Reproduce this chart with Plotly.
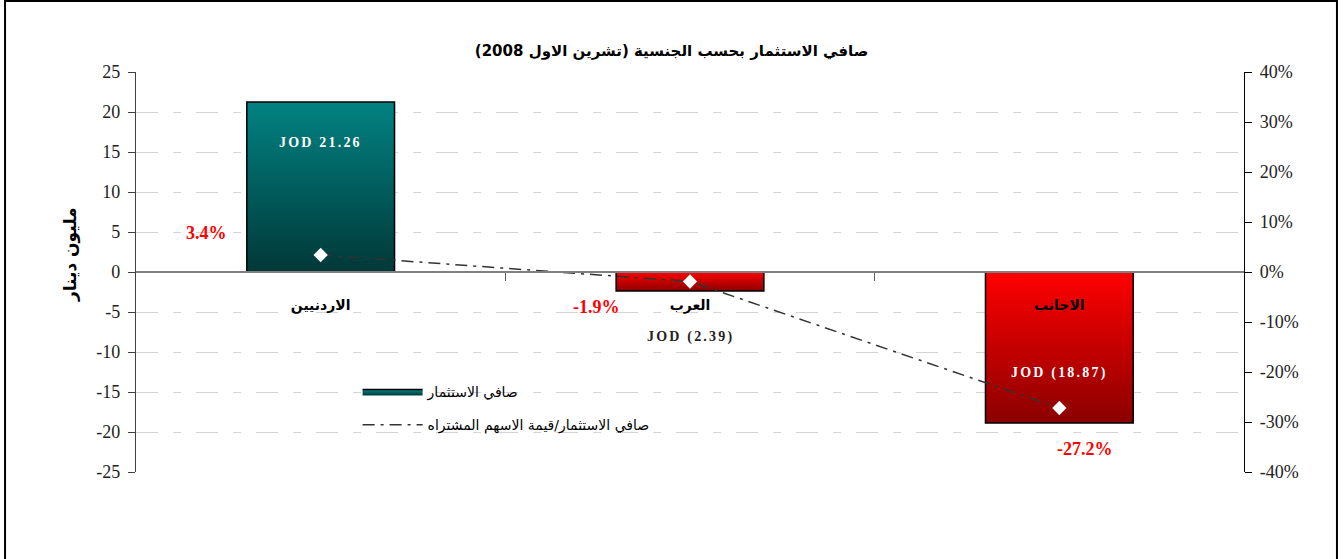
import plotly.graph_objects as go

# ---------------- data ----------------
title_text = "صافي الاستثمار بحسب الجنسية (تشرين الاول 2008)"
categories = ["الاردنيين", "العرب", "الاجانب"]
net_investment = [21.26, -2.39, -18.87]      # million JOD
ratio_pct = [3.4, -1.9, -27.2]               # net investment / value of shares bought (%)
bar_name = "صافي الاستثمار"
line_name = "صافي الاستثمار/قيمة الاسهم المشتراه"
y_title = "مليون دينار"
left_ticks = [-25, -20, -15, -10, -5, 0, 5, 10, 15, 20, 25]
right_ticks = [-40, -30, -20, -10, 0, 10, 20, 30, 40]

# ---------------- style ----------------
SERIF = "Liberation Serif, DejaVu Serif, serif"
ARAB = "DejaVu Sans, sans-serif"
teal_scale = [[0, "#013838"], [1, "#028282"]]
red_scale = [[0, "#8a0000"], [1, "#ff0000"]]
HALF = 0.2

fig = go.Figure()

for i, v in enumerate(net_investment):
    xs = [i - HALF, i - HALF, i + HALF, i + HALF, i - HALF]
    ys = [0, v, v, 0, 0]
    fig.add_trace(go.Scatter(
        x=xs, y=ys, mode="lines", fill="toself",
        fillgradient=dict(type="vertical", colorscale=teal_scale if v >= 0 else red_scale),
        line=dict(color="#000000", width=1.5),
        name=bar_name, legendgroup="bars", showlegend=(i == 0),
        hoverinfo="skip",
    ))

x_idx = list(range(len(categories)))
fig.add_trace(go.Scatter(
    x=x_idx, y=ratio_pct, yaxis="y2", mode="lines",
    line=dict(color="#333333", width=1.5, dash="12px,6px,3px,6px"),
    name=line_name, legendgroup="ratio",
))
fig.add_trace(go.Scatter(
    x=x_idx, y=ratio_pct, yaxis="y2", mode="markers",
    marker=dict(symbol="diamond", size=11, color="white", line=dict(width=0)),
    showlegend=False, hoverinfo="skip",
))

# ---------------- annotations ----------------
ann = []
jod_pos = [16.25, -8.1, -12.6]
jod_col = ["white", "#222222", "white"]
for i, v in enumerate(net_investment):
    txt = f"JOD {v:.2f}" if v >= 0 else f"JOD ({abs(v):.2f})"
    ann.append(dict(x=i, y=jod_pos[i], xref="x", yref="y", showarrow=False,
                    text=f"<b><span style='letter-spacing:2.2px'>{txt}</span></b>",
                    font=dict(family=SERIF, size=14, color=jod_col[i])))
pct_pos = [(-0.308, 4.9), (0.748, -4.4), (2.069, -22.1)]
for i, p in enumerate(ratio_pct):
    ann.append(dict(x=pct_pos[i][0], y=pct_pos[i][1], xref="x", yref="y", showarrow=False,
                    text=f"<b>{p}%</b>", font=dict(family=SERIF, size=18, color="#ff0000")))
ann.append(dict(x=-0.0595, y=0.5425, xref="paper", yref="paper", showarrow=False,
                xanchor="center", yanchor="middle",
                text=f"<b>{y_title}</b>", textangle=-90,
                font=dict(family=ARAB, size=17, color="#000000")))

# outer frame
shapes = [dict(type="rect", xref="paper", yref="paper", x0=-0.1182, x1=1.0839,
               y0=-0.4, y1=1.1775, line=dict(color="#000000", width=2), layer="below")]

tickfont = dict(family=SERIF, size=18, color="#222222")
fig.update_layout(
    width=1343, height=559,
    margin=dict(l=136, r=99, t=72, b=87),
    paper_bgcolor="white", plot_bgcolor="white",
    title=dict(text=f"<b>{title_text}</b>", x=0.5, xanchor="center", y=0.91, yanchor="middle",
               font=dict(family=ARAB, size=15, color="#000000")),
    showlegend=True,
    legend=dict(x=0.2, y=0.24, xanchor="left", yanchor="top", bgcolor="rgba(0,0,0,0)",
                font=dict(family=ARAB, size=14, color="#000000"),
                itemwidth=60, traceorder="grouped", tracegroupgap=12),
    xaxis=dict(range=[-0.5, 2.5], tickvals=x_idx, ticktext=[f"<b>{c}</b>" for c in categories],
               ticks="", anchor="free", position=0.5, showline=True, linecolor="#808080",
               linewidth=2, showgrid=False, zeroline=False, ticklabelstandoff=20,
               tickfont=dict(family=ARAB, size=14, color="#000000"),
               minor=dict(tickvals=[0.5, 1.5], ticks="outside", ticklen=8,
                          tickcolor="#606060", tickwidth=1.2, showgrid=False)),
    xaxis2=dict(range=[-0.5, 2.5], overlaying="x", anchor="free", position=0.5,
                tickvals=[0.5, 1.5], ticks="inside", ticklen=8, tickcolor="#606060",
                tickwidth=1.2, showticklabels=False, showgrid=False, zeroline=False,
                showline=False, side="bottom"),
    yaxis=dict(range=[-25, 25], tickvals=left_ticks, ticktext=[f"{t}" for t in left_ticks],
               ticks="outside", ticklen=7,
               tickcolor="#404040", tickwidth=1.2, showline=True, linecolor="#404040",
               linewidth=1.2, showgrid=True, gridcolor="#d4d4d4", griddash="22px,15px,8px,15px",
               gridwidth=1, zeroline=False, tickfont=tickfont, ticklabelstandoff=4),
    yaxis2=dict(range=[-40, 40], tickvals=right_ticks, ticktext=[f"{t}%" for t in right_ticks],
                overlaying="y",
                side="right", ticks="outside", ticklen=7, tickcolor="#000000", tickwidth=1.2,
                showline=True, linecolor="#000000", linewidth=1.2, showgrid=False,
                zeroline=False, tickfont=tickfont, ticklabelstandoff=4),
    yaxis3=dict(range=[-25, 25], tickvals=left_ticks, overlaying="y", side="left",
                ticks="inside", ticklen=7, tickcolor="#404040", tickwidth=1.2,
                showticklabels=False, showgrid=False, zeroline=False, showline=False),
    yaxis4=dict(range=[-40, 40], tickvals=right_ticks, overlaying="y", side="right",
                ticks="inside", ticklen=7, tickcolor="#000000", tickwidth=1.2,
                showticklabels=False, showgrid=False, zeroline=False, showline=False),
    annotations=ann, shapes=shapes,
)

fig.write_html("out.html", config={"displayModeBar": False},
               post_script="document.body.style.margin='0';")
